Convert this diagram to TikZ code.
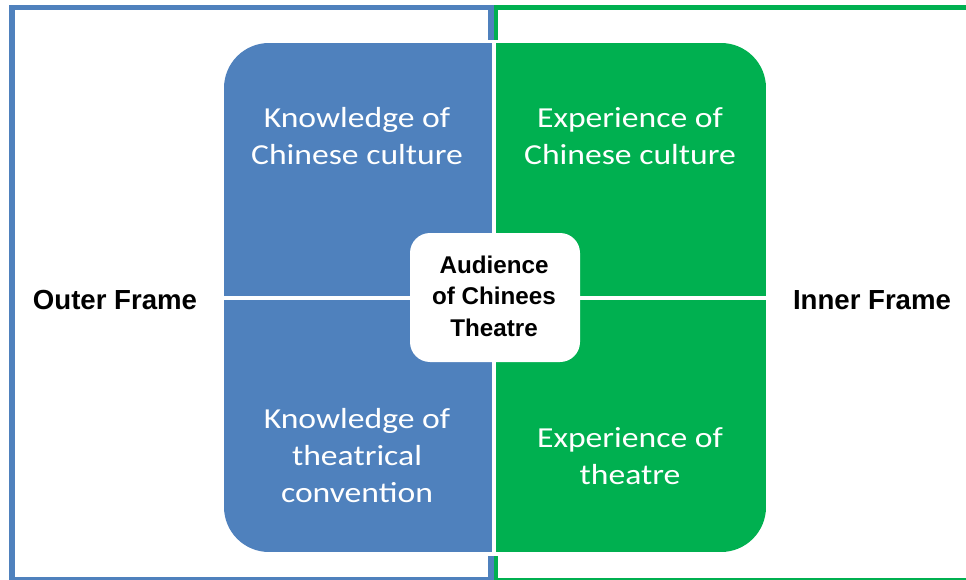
\documentclass[tikz,border=0pt]{standalone}
\usepackage{fontspec}
\setmainfont{Carlito}[FakeStretch=1.16]
\newfontfamily\arialf{Liberation Sans}
\definecolor{qblue}{HTML}{4F81BD}
\definecolor{qgreen}{HTML}{00B050}
\begin{document}
\begin{tikzpicture}[x=1pt,y=-1pt,
  qtext/.style={text=white,align=center,font=\fontsize{29}{37}\selectfont},
  ftext/.style={text=black,font=\arialf\bfseries\fontsize{27.6}{30}\selectfont},
  ctext/.style={text=black,align=center,font=\arialf\bfseries\fontsize{24.2}{31.5}\selectfont},
  bframe/.style={draw=qblue,line width=5.5pt},
  gframe/.style={draw=qgreen,line width=4.5pt}]
\useasboundingbox (0,0) rectangle (966,580);
\fill[white] (0,0) rectangle (966,580);
% frames
\coordinate (bt) at (491,40);
\coordinate (bb) at (491,556);
\coordinate (gt) at (496,40);
\coordinate (gb) at (496,556);
\draw[bframe] (bt) -- (491,7.5) -- (12,7.5) -- (12,580) -- (491,580) -- (bb);
\draw[gframe] (gt) -- (496,7.5) -- (975,7.5);
\draw[gframe] (gb) -- (496,580) -- (975,580);
% quadrants
\begin{scope}
\clip[rounded corners=45pt] (224,43) rectangle (766,552);
\fill[qblue] (224,43) rectangle (493.7,552);
\fill[qgreen] (493.7,43) rectangle (766,552);
\end{scope}
\fill[white] (491.7,43) rectangle (495.8,552);
\fill[white] (224,296) rectangle (766,299.5);
% centre
\node[fill=white,rounded corners=20pt,minimum width=170pt,minimum height=129pt,inner sep=0pt] (c) at (495,297.5) {};
\node[ctext] (ct) at (494,296) {Audience\\of Chinees\\Theatre};
% quadrant texts
\node[qtext] (q1) at (357,136) {Knowledge of\\Chinese culture};
\node[qtext] (q2) at (630,136) {Experience of\\Chinese culture};
\node[qtext] (q3) at (357,456) {Knowledge of\\theatrical\\convention};
\node[qtext] (q4) at (630,456) {Experience of\\theatre};
% frame labels
\node[ftext] (of) at (115,300) {Outer Frame};
\node[ftext] (if) at (872,300) {Inner Frame};
\end{tikzpicture}
\end{document}
